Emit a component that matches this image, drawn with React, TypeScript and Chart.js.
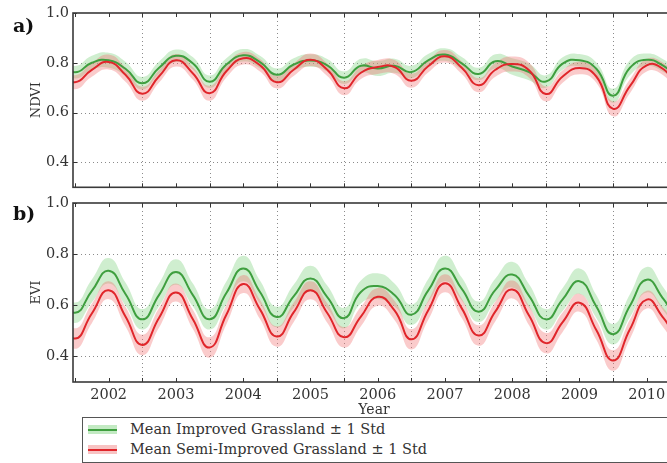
import React, { useEffect, useRef } from 'react';
import { Chart, registerables } from 'chart.js';

Chart.register(...registerables);

// ---- data ----
const years = [
  2001.25, 2001.5, 2001.75, 2002.0, 2002.25, 2002.5, 2002.75, 2003.0, 2003.25, 2003.5,
  2003.75, 2004.0, 2004.25, 2004.5, 2004.75, 2005.0, 2005.25, 2005.5, 2005.75, 2006.0,
  2006.25, 2006.5, 2006.75, 2007.0, 2007.25, 2007.5, 2007.75, 2008.0, 2008.25, 2008.5,
  2008.75, 2009.0, 2009.25, 2009.5, 2009.75, 2010.0, 2010.25, 2010.5, 2010.75,
];

const ndviImproved = [
  0.80, 0.762, 0.80, 0.81, 0.776, 0.718, 0.78, 0.828, 0.798, 0.724,
  0.793, 0.83, 0.803, 0.752, 0.793, 0.809, 0.79, 0.74, 0.788, 0.777,
  0.788, 0.763, 0.81, 0.833, 0.798, 0.755, 0.806, 0.785, 0.763, 0.725,
  0.797, 0.81, 0.776, 0.668, 0.78, 0.812, 0.788, 0.74, 0.78,
];
const ndviImprovedStd = [
  0.025, 0.025, 0.028, 0.03, 0.028, 0.025, 0.025, 0.025, 0.025, 0.025,
  0.025, 0.025, 0.025, 0.025, 0.025, 0.025, 0.025, 0.025, 0.028, 0.03,
  0.028, 0.025, 0.025, 0.025, 0.025, 0.025, 0.028, 0.033, 0.033, 0.025,
  0.025, 0.025, 0.025, 0.028, 0.03, 0.025, 0.025, 0.025, 0.025,
];
const ndviSemi = [
  0.76, 0.722, 0.772, 0.803, 0.752, 0.676, 0.746, 0.81, 0.758, 0.678,
  0.766, 0.818, 0.79, 0.722, 0.772, 0.812, 0.772, 0.698, 0.76, 0.783,
  0.783, 0.728, 0.786, 0.826, 0.78, 0.71, 0.772, 0.795, 0.77, 0.675,
  0.745, 0.779, 0.745, 0.615, 0.706, 0.79, 0.774, 0.70, 0.74,
];
const ndviSemiStd = [
  0.025, 0.028, 0.028, 0.03, 0.028, 0.028, 0.025, 0.025, 0.025, 0.03,
  0.025, 0.025, 0.025, 0.025, 0.025, 0.025, 0.025, 0.028, 0.025, 0.028,
  0.028, 0.028, 0.025, 0.025, 0.025, 0.028, 0.028, 0.03, 0.03, 0.03,
  0.025, 0.025, 0.025, 0.03, 0.028, 0.025, 0.025, 0.028, 0.025,
];

const eviImproved = [
  0.65, 0.571, 0.656, 0.735, 0.644, 0.545, 0.641, 0.73, 0.641, 0.545,
  0.648, 0.744, 0.652, 0.554, 0.635, 0.705, 0.632, 0.55, 0.652, 0.675,
  0.64, 0.563, 0.657, 0.744, 0.664, 0.575, 0.66, 0.72, 0.637, 0.545,
  0.623, 0.694, 0.595, 0.487, 0.598, 0.70, 0.624, 0.54, 0.63,
];
const eviImprovedStd = [
  0.045, 0.04, 0.045, 0.05, 0.045, 0.04, 0.045, 0.05, 0.045, 0.04,
  0.045, 0.05, 0.045, 0.04, 0.045, 0.05, 0.045, 0.04, 0.045, 0.05,
  0.045, 0.04, 0.045, 0.05, 0.045, 0.04, 0.045, 0.05, 0.045, 0.04,
  0.045, 0.05, 0.045, 0.04, 0.045, 0.05, 0.045, 0.04, 0.045,
];
const eviSemi = [
  0.567, 0.47, 0.568, 0.659, 0.556, 0.445, 0.551, 0.65, 0.546, 0.435,
  0.563, 0.683, 0.584, 0.478, 0.572, 0.659, 0.57, 0.475, 0.556, 0.633,
  0.58, 0.467, 0.58, 0.686, 0.588, 0.482, 0.576, 0.662, 0.56, 0.452,
  0.534, 0.61, 0.503, 0.384, 0.506, 0.622, 0.55, 0.47, 0.56,
];
const eviSemiStd = [
  0.038, 0.04, 0.038, 0.035, 0.038, 0.04, 0.038, 0.035, 0.038, 0.04,
  0.038, 0.035, 0.038, 0.04, 0.038, 0.035, 0.038, 0.04, 0.038, 0.035,
  0.038, 0.04, 0.038, 0.035, 0.038, 0.04, 0.038, 0.035, 0.038, 0.04,
  0.038, 0.035, 0.038, 0.04, 0.038, 0.035, 0.038, 0.04, 0.038,
];

const yTickValues = [0.4, 0.6, 0.8, 1.0];
const xTickYears = [2002, 2003, 2004, 2005, 2006, 2007, 2008, 2009, 2010];
const legendLabels = ['Mean Improved Grassland \u00b1 1 Std', 'Mean Semi-Improved Grassland \u00b1 1 Std'];

// ---- style ----
const FONT = "'DejaVu Serif', serif";
const TEXT = '#333333';
const GREEN = '#3f9f3f';
const RED = '#e0262b';
const GREEN_FILL = 'rgba(130,210,130,0.38)';
const RED_FILL = 'rgba(240,110,110,0.36)';
const X_MIN = 2001.47;
const X_MAX = 2010.42;

const pts = (vals: number[]) => vals.map((v, i) => ({ x: years[i], y: v }));
const band = (m: number[], s: number[], sign: number) => m.map((v, i) => ({ x: years[i], y: v + sign * s[i] }));

const framePlugin = {
  id: 'frame',
  beforeDatasetsDraw(chart: any) {
    const { ctx, chartArea: a, scales } = chart;
    const x = scales.x, y = scales.y;
    ctx.save();
    ctx.strokeStyle = 'rgba(90,90,90,0.7)';
    ctx.lineWidth = 1;
    ctx.setLineDash([1, 3]);
    for (const v of yTickValues) {
      if (v >= 1) continue;
      const py = Math.round(y.getPixelForValue(v)) + 0.5;
      ctx.beginPath();
      ctx.moveTo(a.left, py);
      ctx.lineTo(a.right, py);
      ctx.stroke();
    }
    for (const yr of xTickYears) {
      const px = Math.round(x.getPixelForValue(yr + 0.5)) + 0.5;
      if (px > a.right) continue;
      ctx.beginPath();
      ctx.moveTo(px, a.top);
      ctx.lineTo(px, a.bottom);
      ctx.stroke();
    }
    ctx.restore();
  },
  afterDatasetsDraw(chart: any) {
    const { ctx, chartArea: a, scales } = chart;
    const x = scales.x, y = scales.y;
    ctx.save();
    ctx.setLineDash([]);
    ctx.strokeStyle = '#333';
    ctx.lineWidth = 1;
    const tick = 4;
    for (const v of yTickValues) {
      const py = Math.round(y.getPixelForValue(v)) + 0.5;
      ctx.beginPath();
      ctx.moveTo(a.left, py);
      ctx.lineTo(a.left + tick, py);
      ctx.stroke();
    }
    const xs: number[] = [];
    for (const yr of xTickYears) { xs.push(yr); xs.push(yr + 0.5); }
    xs.push(2001.5);
    for (const v of xs) {
      const px = Math.round(x.getPixelForValue(v)) + 0.5;
      if (px < a.left || px > a.right) continue;
      ctx.beginPath();
      ctx.moveTo(px, a.bottom);
      ctx.lineTo(px, a.bottom - tick);
      ctx.moveTo(px, a.top);
      ctx.lineTo(px, a.top + tick);
      ctx.stroke();
    }
    ctx.lineWidth = 1.6;
    ctx.strokeStyle = '#3a3a3a';
    ctx.strokeRect(a.left, a.top, a.right - a.left, a.bottom - a.top);
    ctx.restore();
  },
};

function makeConfig(
  imp: number[], impStd: number[], semi: number[], semiStd: number[],
  title: string, showX: boolean, xHeight: number,
): any {
  const common = { pointRadius: 0, tension: 0.5, clip: 0 };
  return {
    type: 'line',
    data: {
      datasets: [
        { ...common, data: band(imp, impStd, 1), borderWidth: 0, borderColor: 'transparent', backgroundColor: GREEN_FILL, fill: '+1', order: 4 },
        { ...common, data: band(imp, impStd, -1), borderWidth: 0, borderColor: 'transparent', fill: false, order: 4 },
        { ...common, data: band(semi, semiStd, 1), borderWidth: 0, borderColor: 'transparent', backgroundColor: RED_FILL, fill: '+1', order: 3 },
        { ...common, data: band(semi, semiStd, -1), borderWidth: 0, borderColor: 'transparent', fill: false, order: 3 },
        { ...common, data: pts(imp), borderWidth: 2, borderColor: GREEN, fill: false, order: 2 },
        { ...common, data: pts(semi), borderWidth: 2, borderColor: RED, fill: false, order: 1 },
      ],
    },
    options: {
      animation: false,
      responsive: false,
      maintainAspectRatio: false,
      devicePixelRatio: 1,
      layout: { padding: { top: 13, right: 15, left: 0, bottom: 0 } },
      plugins: { legend: { display: false }, tooltip: { enabled: false } },
      scales: {
        x: {
          type: 'linear',
          min: X_MIN,
          max: X_MAX,
          grid: { display: false, drawTicks: false },
          border: { display: false },
          afterBuildTicks: (s: any) => { s.ticks = xTickYears.map((v) => ({ value: v })); },
          ticks: {
            display: showX,
            autoSkip: false,
            maxRotation: 0,
            padding: 5,
            color: TEXT,
            font: { family: FONT, size: 14.5 },
            callback: (v: any) => String(v),
          },
          title: {
            display: showX,
            text: 'Year',
            color: TEXT,
            font: { family: FONT, size: 14 },
            padding: { top: 0, bottom: 3 },
          },
          afterFit: (s: any) => { s.height = xHeight; },
        },
        y: {
          min: 0.3,
          max: 1.0,
          grid: { display: false, drawTicks: false },
          border: { display: false },
          afterBuildTicks: (s: any) => { s.ticks = yTickValues.map((v) => ({ value: v })); },
          ticks: {
            padding: 4,
            color: TEXT,
            font: { family: FONT, size: 14.5 },
            callback: (v: any) => Number(v).toFixed(1),
          },
          title: {
            display: true,
            text: title,
            color: TEXT,
            font: { family: FONT, size: 13 },
            padding: { top: 29, bottom: 0 },
          },
          afterFit: (s: any) => { s.width = 73; },
        },
      },
    },
    plugins: [framePlugin],
  };
}

const W = 690;

export default function App() {
  const topRef = useRef<HTMLCanvasElement>(null);
  const botRef = useRef<HTMLCanvasElement>(null);

  useEffect(() => {
    const c1 = new Chart(topRef.current as HTMLCanvasElement,
      makeConfig(ndviImproved, ndviImprovedStd, ndviSemi, ndviSemiStd, 'NDVI', false, 8));
    const c2 = new Chart(botRef.current as HTMLCanvasElement,
      makeConfig(eviImproved, eviImprovedStd, eviSemi, eviSemiStd, 'EVI', true, 40));
    return () => { c1.destroy(); c2.destroy(); };
  }, []);

  const panelLabel: React.CSSProperties = {
    position: 'absolute', left: 13, fontFamily: FONT, fontWeight: 'bold',
    fontSize: 19, color: '#111', lineHeight: '20px',
  };
  const legendText: React.CSSProperties = {
    position: 'absolute', left: 130, fontFamily: FONT, fontSize: 14.5, color: TEXT,
    lineHeight: '18px', whiteSpace: 'nowrap',
  };
  const swatch = (top: number, fill: string, line: string) => (
    <div style={{ position: 'absolute', left: 88, top, width: 29, height: 9, background: fill }}>
      <div style={{ position: 'absolute', left: 0, top: 3.5, width: 29, height: 2, background: line }} />
    </div>
  );

  return (
    <div style={{ position: 'fixed', left: 0, top: 0, width: 667, height: 463, overflow: 'hidden', background: '#fff' }}>
      <canvas ref={topRef} width={W} height={200} style={{ position: 'absolute', left: 0, top: 0, width: W, height: 200 }} />
      <canvas ref={botRef} width={W} height={232} style={{ position: 'absolute', left: 0, top: 190, width: W, height: 232 }} />
      <div style={{ ...panelLabel, top: 15 }}>a)</div>
      <div style={{ ...panelLabel, top: 203 }}>b)</div>
      <div style={{ position: 'absolute', left: 82, top: 417, width: 700, height: 46, border: '1px solid #555', boxSizing: 'border-box', background: '#fff' }} />
      {swatch(425, 'rgba(170,225,170,0.7)', GREEN)}
      {swatch(445, 'rgba(245,170,170,0.7)', RED)}
      <div style={{ ...legendText, top: 420 }}>{legendLabels[0]}</div>
      <div style={{ ...legendText, top: 440 }}>{legendLabels[1]}</div>
    </div>
  );
}
